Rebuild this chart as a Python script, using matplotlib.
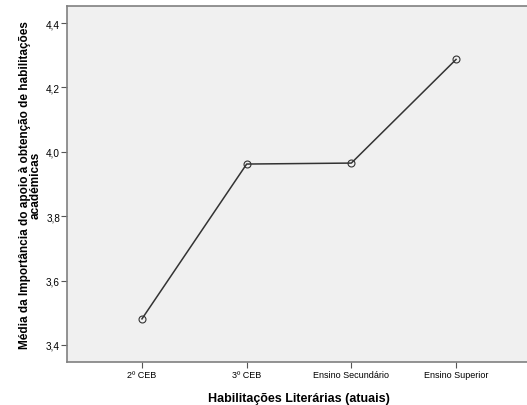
import matplotlib
matplotlib.use("Agg")
import matplotlib.pyplot as plt
from matplotlib.ticker import FuncFormatter

# Data
categories = ["2º CEB", "3º CEB", "Ensino Secundário", "Ensino Superior"]
means = [3.481, 3.962, 3.965, 4.287]
y_ticks = [3.4, 3.6, 3.8, 4.0, 4.2, 4.4]

plt.rcParams["font.family"] = ["Liberation Sans", "DejaVu Sans"]

fig = plt.figure(figsize=(5.27, 4.06), dpi=100)
# axes box in pixels: left 67, right 531 (beyond the edge), top 7, bottom 363
W, H = 527, 406
ax = fig.add_axes([67 / W, (H - 363) / H, (531 - 67) / W, (363 - 7) / H])
ax.set_facecolor("#f0f0f0")

x = list(range(len(categories)))
ax.plot(x, means, color="#333333", linewidth=1.1,
        marker="o", markersize=5, markerfacecolor="none",
        markeredgecolor="#333333", markeredgewidth=0.8)

ax.set_xlim(-0.716, 3.716)
ax.set_ylim(3.347, 4.453)
ax.set_xticks(x)
ax.set_xticklabels(categories, fontsize=6.5)
ax.set_yticks(y_ticks)
ax.yaxis.set_major_formatter(FuncFormatter(lambda v, p: f"{v:.1f}".replace(".", ",")))
ax.tick_params(axis="y", labelsize=7.2, length=4, width=0.8, color="#555555", pad=1)
ax.tick_params(axis="x", length=4, width=0.8, color="#555555", pad=2)

for s in ax.spines.values():
    s.set_color("#808080")
    s.set_linewidth(1.2)

ax.set_xlabel("Habilitações Literárias (atuais)", fontsize=9, fontweight="bold", labelpad=9)
ax.set_ylabel("Média da Importância do apoio à obtenção de habilitações\nacadémicas",
              fontsize=8.5, fontweight="bold", labelpad=3, linespacing=0.9)

fig.savefig("out.png", dpi=100, facecolor="white")
